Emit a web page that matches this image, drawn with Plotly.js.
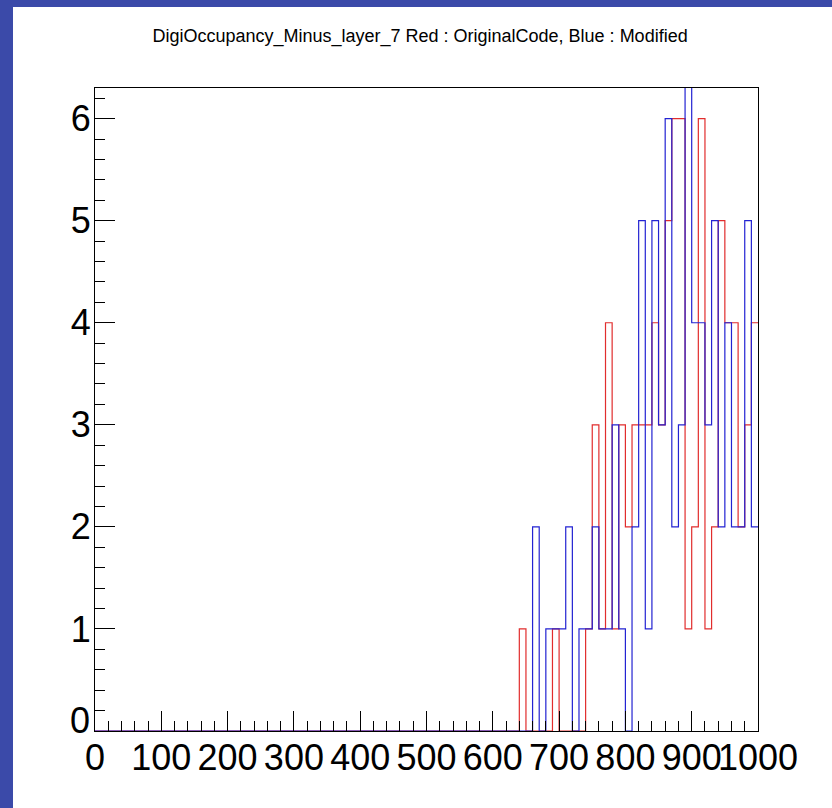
<!DOCTYPE html>
<html>
<head>
<meta charset="utf-8">
<script src="https://cdn.plot.ly/plotly-3.0.1.min.js"></script>
<style>
  html, body { margin: 0; padding: 0; background: #3b4aa9; width: 832px; height: 808px; overflow: hidden; }
  #chart { position: absolute; left: 13px; top: 7px; width: 819px; height: 801px; background: #ffffff; }
</style>
</head>
<body>
<div id="chart"></div>
<script>
// Histogram bins (low edges, width 10); bins below 640 are empty for both series
const binLowEdges = [640, 650, 660, 670, 680, 690, 700, 710, 720, 730,
                     740, 750, 760, 770, 780, 790, 800, 810, 820, 830,
                     840, 850, 860, 870, 880, 890, 900, 910, 920, 930,
                     940, 950, 960, 970, 980, 990];
const xMin = 0, xMax = 1000;

// Red : OriginalCode
const redCounts = [1, 0, 0, 0, 0, 1, 0, 0, 0, 0,
                   1, 3, 1, 4, 1, 3, 2, 3, 3, 3,
                   4, 3, 5, 6, 6, 1, 2, 6, 1, 2,
                   5, 4, 4, 2, 3, 4];
// Blue : Modified
const blueCounts = [0, 0, 2, 0, 1, 1, 1, 2, 0, 1,
                    1, 2, 1, 1, 3, 1, 0, 2, 5, 1,
                    5, 3, 6, 2, 3, 7, 4, 4, 3, 5,
                    2, 4, 2, 2, 5, 2];

const xTickVals = [0, 100, 200, 300, 400, 500, 600, 700, 800, 900, 1000];
const xTickText = ["0", "100", "200", "300", "400", "500", "600", "700", "800", "900", "1000"];
const yTickVals = [0, 1, 2, 3, 4, 5, 6];
const yTickText = ["0", "1", "2", "3", "4", "5", "6"];

function stepTrace(counts, color) {
  const xs = [xMin].concat(binLowEdges).concat([xMax]);
  const ys = [0].concat(counts).concat([counts[counts.length - 1]]);
  return {
    type: 'scatter', mode: 'lines', x: xs, y: ys,
    line: { shape: 'hv', color: color, width: 1.2 },
    hoverinfo: 'skip', showlegend: false
  };
}

const data = [
  stepTrace(redCounts, 'rgb(225,45,45)'),
  stepTrace(blueCounts, 'rgb(35,35,210)')
];

const font = 'Liberation Sans, Arial, Helvetica, sans-serif';

// The lowest y label is lifted (as in the original) so it does not touch the x "0" label
const yLabelsOnAxis = yTickText.map((t, i) => i === 0 ? '' : t);

const layout = {
  width: 819, height: 801,
  paper_bgcolor: '#ffffff', plot_bgcolor: '#ffffff',
  margin: { l: 82, r: 74, t: 81, b: 77 },
  showlegend: false,
  title: {
    text: 'DigiOccupancy_Minus_layer_7 Red : OriginalCode, Blue : Modified',
    font: { family: font, size: 18, color: '#000000' },
    xref: 'container', yref: 'container', x: 0.497, y: 0.964,
    xanchor: 'center', yanchor: 'middle'
  },
  xaxis: {
    range: [xMin, xMax], tickmode: 'array', tickvals: xTickVals, ticktext: xTickText,
    ticks: 'inside', ticklen: 20, tickwidth: 1, tickcolor: '#000000',
    minor: { dtick: 20, ticks: 'inside', ticklen: 10, tickcolor: '#000000', tickwidth: 1, showgrid: false },
    showgrid: false, zeroline: false,
    showline: true, mirror: true, linecolor: '#000000', linewidth: 1,
    tickfont: { family: font, size: 36, color: '#000000' },
    ticklabelstandoff: -5,
    tickangle: 0
  },
  yaxis: {
    range: [0, 6.3], tickmode: 'array', tickvals: yTickVals, ticktext: yLabelsOnAxis,
    ticks: 'inside', ticklen: 20, tickwidth: 1, tickcolor: '#000000',
    minor: { dtick: 0.2, ticks: 'inside', ticklen: 10, tickcolor: '#000000', tickwidth: 1, showgrid: false },
    showgrid: false, zeroline: false,
    showline: true, mirror: true, linecolor: '#000000', linewidth: 1,
    tickfont: { family: font, size: 36, color: '#000000' },
    ticklabelstandoff: -4
  },
  annotations: [{
    text: yTickText[0], xref: 'paper', yref: 'y', x: 0, y: yTickVals[0],
    xanchor: 'right', yanchor: 'middle', xshift: -3, yshift: 11, showarrow: false,
    font: { family: font, size: 36, color: '#000000' }
  }]
};

Plotly.newPlot('chart', data, layout, { displayModeBar: false, staticPlot: true });
</script>
</body>
</html>
